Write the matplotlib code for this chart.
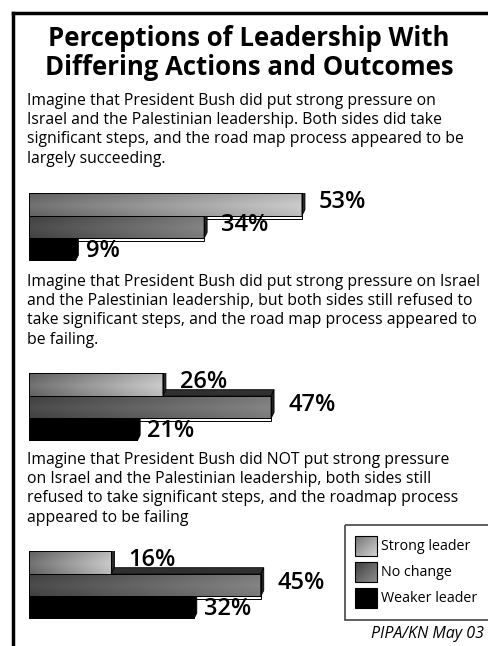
import numpy as np
import matplotlib
matplotlib.use('Agg')
import matplotlib.pyplot as plt
from matplotlib.patches import Rectangle, Polygon

# survey results, percent of respondents
scenarios = [
    "Imagine that President Bush did put strong pressure on\n"
    "Israel and the Palestinian leadership. Both sides did take\n"
    "significant steps, and the road map process appeared to be\n"
    "largely succeeding.",
    "Imagine that President Bush did put strong pressure on Israel\n"
    "and the Palestinian leadership, but both sides still refused to\n"
    "take significant steps, and the road map process appeared to\n"
    "be failing.",
    "Imagine that President Bush did NOT put strong pressure\n"
    "on Israel and the Palestinian leadership, both sides still\n"
    "refused to take significant steps, and the roadmap process\n"
    "appeared to be failing",
]
strong_leader = [53, 26, 16]
no_change = [34, 47, 45]
weaker_leader = [9, 21, 32]
series_names = ['Strong leader', 'No change', 'Weaker leader']

title = 'Perceptions of Leadership With\nDiffering Actions and Outcomes'
source = 'PIPA/KN May 03'

FONT = 'Open Sans'
W, H = 489, 646
fig = plt.figure(figsize=(W / 100, H / 100), dpi=100)


def px_box(x0, y0, x1, y1):
    return [x0 / W, 1 - y1 / H, (x1 - x0) / W, (y1 - y0) / H]


# frame lines (left and top)
fig.add_artist(plt.Line2D([13 / W, 13 / W], [0, 1 - 13 / H], color='black', lw=2.5,
                          transform=fig.transFigure))
fig.add_artist(plt.Line2D([13 / W, 1], [1 - 13 / H, 1 - 13 / H], color='black', lw=2.5,
                          transform=fig.transFigure))

fig.text(249 / W, 1 - 53 / H, title, ha='center', va='center', fontsize=18.5,
         fontweight='bold', family=FONT, linespacing=1.12)

# front colour ramps (left value, right value) and top/side shades per series
ramps = [(0.36, 0.80), (0.24, 0.52), (0.0, 0.0)]
tops = ['#444444', '#303030', '#111111']
sides = ['#2a2a2a', '#222222', '#000000']

text_y = [93, 274, 452]
bar_top = [193, 373, 551]
pitch = 22.7
px_per_pct = 5.15
dx = 3 / px_per_pct
dy = 6 / pitch


def gradient(c0, c1, nx=120, ny=24):
    gx = np.linspace(0, 1, nx)[None, :]
    gy = np.linspace(0, 1, ny)[:, None]
    shade = 0.8 * gx + 0.2 * (1 - np.abs(gy - 0.55) * 1.6)
    return c0 + (c1 - c0) * np.clip(shade, 0, 1)


for g in range(3):
    fig.text(27 / W, 1 - text_y[g] / H, scenarios[g], ha='left', va='top',
             fontsize=11.3, family=FONT, linespacing=1.27)

    ax = fig.add_axes(px_box(29, bar_top[g], 29 + 60 * px_per_pct, bar_top[g] + 3 * pitch))
    ax.set_axis_off()
    vals = [strong_leader[g], no_change[g], weaker_leader[g]]
    # lower bars first so the upper ones cover their top faces
    for i in [2, 1, 0]:
        v = vals[i]
        z = 10 - 2 * i
        strip = Rectangle((0, i + 1), v, 0.13, facecolor='white', edgecolor='black',
                          lw=0.7, zorder=1)
        ax.add_patch(strip)
        front = Rectangle((0, i), v, 1, facecolor='none', edgecolor='black', lw=0.7,
                          zorder=z + 1)
        ax.add_patch(front)
        c0, c1 = ramps[i]
        im = ax.imshow(gradient(c0, c1), cmap='gray', vmin=0, vmax=1, aspect='auto',
                       extent=[0, v, i + 1, i], zorder=z, interpolation='bilinear')
        im.set_clip_path(front)
        top = Polygon([(0, i), (v, i), (v + dx, i - dy), (dx, i - dy)], closed=True,
                      facecolor=tops[i], edgecolor='black', lw=0.6, zorder=z)
        side = Polygon([(v, i), (v + dx, i - dy), (v + dx, i + 1 - dy), (v, i + 1)],
                       closed=True, facecolor=sides[i], edgecolor='black', lw=0.6, zorder=z)
        ax.add_patch(top)
        ax.add_patch(side)
        off = 2.0 if i == 2 else 3.3
        nudge = 0.05 if i == 2 else -0.1
        ax.text(v + off, i + 0.5 + nudge, f'{v}%', va='center', ha='left', fontsize=17,
                fontweight='semibold', family=FONT, zorder=20)
    ax.set_xlim(0, 60)
    ax.set_ylim(3, 0)

# legend box
lax = fig.add_axes(px_box(345, 525, 489, 620))
lax.set_axis_off()
lax.add_patch(Rectangle((0, 0), 160, 95, facecolor='none', edgecolor='#444444', lw=1.2,
                        clip_on=False))
swatch_ramps = [(0.45, 0.82), (0.25, 0.55), (0.0, 0.0)]
for k, name in enumerate(series_names):
    yc = 21 + k * 26
    sw = Rectangle((10, yc - 10), 22, 20, facecolor='none', edgecolor='black', lw=0.8,
                   zorder=3)
    lax.add_patch(sw)
    c0, c1 = swatch_ramps[k]
    gx = np.linspace(0, 1, 20)[None, :]
    gy = np.linspace(0, 1, 20)[:, None]
    im = lax.imshow(c0 + (c1 - c0) * (0.5 * gx + 0.5 * gy), cmap='gray', vmin=0, vmax=1,
                    aspect='auto', extent=[10, 32, yc + 10, yc - 10], zorder=2)
    im.set_clip_path(sw)
    lax.text(36, yc, name, va='center', ha='left', fontsize=10.3, family=FONT)
lax.set_xlim(0, 144)
lax.set_ylim(95, 0)

fig.text(484 / W, 1 - 634 / H, source, ha='right', va='center', fontsize=11.5,
         style='italic', family=FONT)

fig.savefig('out.png', dpi=100)
